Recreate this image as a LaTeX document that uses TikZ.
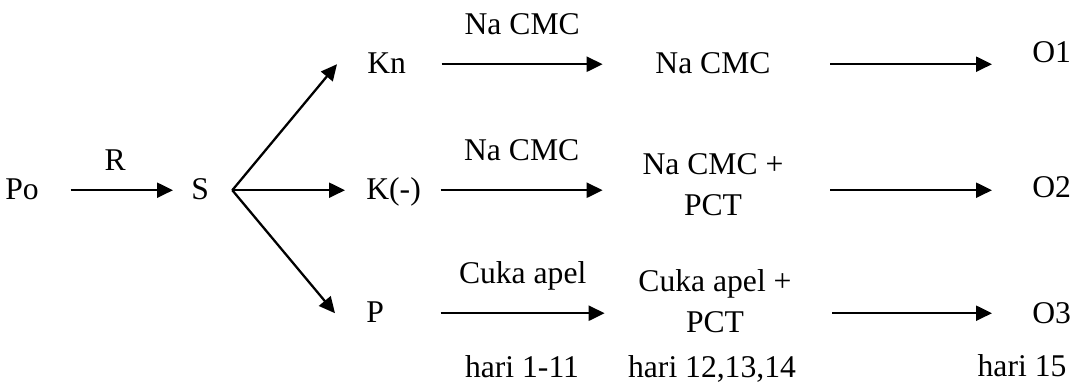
\documentclass[tikz,border=0pt]{standalone}
\usepackage{fontspec}
\setmainfont{Liberation Serif}
\usetikzlibrary{arrows.meta}
\usetikzlibrary{positioning}
\tikzset{>={Triangle[length=3.2mm,width=3mm]}}

\begin{document}
\begin{tikzpicture}[
        x=0.2mm, y=-0.2mm,
        every node/.style={inner sep=0pt,font=\fontsize{18pt}{22.8pt}\selectfont},
        word/.style={anchor=base west,text height=13pt,text depth=3pt},
        grp/.style={word,text width=14.8mm,align=left},
        mix/.style={anchor=base,minimum width=44mm,align=center},
        lbl/.style={anchor=base,yshift=6mm},
        flow/.style={line width=1.3pt,->}
    ]
    \useasboundingbox (0,0) rectangle (1074,383);

    \node[word] (po) at (5,199) {Po};
    \node[word] (s) at (191,199) {S};
    \coordinate[right=4.6mm of s] (fork);

    \node[grp] (kn) at (367,73) {Kn};
    \node[grp] (km) at (366,199) {K(-)};
    \node[grp] (p) at (366,322) {P};

    % base of a two-line node is its last line
    \node[mix] (m1) at (713,73) {Na CMC};
    \node[mix] (m2) at (713,215) {Na CMC +\\ PCT};
    \node[mix] (m3) at (715,332) {Cuka apel +\\ PCT};

    \node[word] (o1) at (1032,62) {O1};
    \node[word] (o2) at (1032,197) {O2};
    \node[word] (o3) at (1032,323) {O3};

    \node[anchor=base] (h1) at (522,377) {hari 1-11};
    \node[anchor=base] (h2) at (712,377) {hari 12,13,14};
    \node[anchor=base] (h3) at (1022,376) {hari 15};

    \draw[flow,shorten <=6.3mm,shorten >=3.6mm] (po) -- node[lbl,yshift=-2mm] {R} (s);

    \draw[flow] (fork) -- ([xshift=-6mm]kn.west);
    \draw[flow,shorten >=4.2mm] (fork) -- (km.west);
    \draw[flow] (fork) -- ([xshift=-6.2mm]p.west);

    \draw[flow] (kn.east) -- node[lbl] {Na CMC} (kn.east -| m1.west);
    \draw[flow] (km.east) -- node[lbl] {Na CMC} (km.east -| m2.west);
    \draw[flow] (p.east) -- node[lbl] {Cuka apel} (p.east -| m3.west);

    \draw[flow,shorten <=1.4mm,shorten >=8mm] (kn.east -| m1.east) -- (kn.east -| o1.west);
    \draw[flow,shorten <=1.4mm,shorten >=8mm] (km.east -| m2.east) -- (km.east -| o2.west);
    \draw[flow,shorten <=1.4mm,shorten >=8mm] (p.east -| m3.east) -- (p.east -| o3.west);
\end{tikzpicture}
\end{document}
